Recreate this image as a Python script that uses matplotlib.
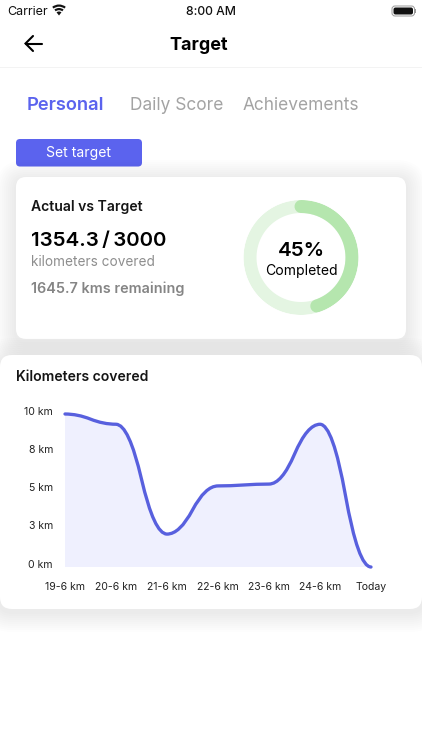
import numpy as np
import matplotlib
matplotlib.use('Agg')
import matplotlib.pyplot as plt
from matplotlib.patches import FancyBboxPatch, Rectangle, PathPatch, Wedge
from matplotlib.path import Path
from matplotlib.transforms import ScaledTranslation

W, H = 422, 750

# chart data
days = ['19-6 km', '20-6 km', '21-6 km', '22-6 km', '23-6 km', '24-6 km', 'Today']
km = [10, 9.33, 2.15, 5.3, 5.42, 9.33, 0]
y_ticks = [0, 2.5, 5, 7.5, 10]
y_labels = ['0 km', '3 km', '5 km', '8 km', '10 km']
progress = 0.45

BLUE = '#5B63EE'
LINE = '#5860DE'
FILL = '#EFF0FE'
plt.rcParams['font.family'] = ['Inter', 'DejaVu Sans']

fig = plt.figure(figsize=(W / 100, H / 100), dpi=100, facecolor='white')
ui = fig.add_axes([0, 0, 1, 1])
ui.set_xlim(0, W)
ui.set_ylim(H, 0)
ui.axis('off')


def px(size):
    return size * 0.72


def card(x0, y0, x1, y1, r):
    # soft shadow, stacked translucent boxes
    for grow in range(20, 0, -2):
        ui.add_patch(FancyBboxPatch((x0 - grow, y0 - grow + 3), x1 - x0 + 2 * grow, y1 - y0 + 2 * grow,
                                    boxstyle=f'round,pad=0,rounding_size={r + grow}',
                                    fc='black', ec='none', alpha=0.009))
    ui.add_patch(FancyBboxPatch((x0, y0), x1 - x0, y1 - y0, boxstyle=f'round,pad=0,rounding_size={r}',
                                fc='white', ec='none'))


# status bar
ui.text(7, 12, 'Carrier', fontsize=px(12.5), color='#111111', va='center', ha='left')
for r, w in [(11, 2.2), (7.5, 2.2)]:
    ui.add_patch(Wedge((59, 15.5), r, 232, 308, width=w, fc='#111111', ec='none'))
ui.add_patch(Wedge((59, 15.5), 4, 232, 308, fc='#111111', ec='none'))
ui.text(210.5, 12, '8:00 AM', fontsize=px(12.2), fontweight='medium', color='#111111', va='center', ha='center')
ui.add_patch(FancyBboxPatch((392, 6), 22.5, 10, boxstyle='round,pad=0,rounding_size=3', fc='white', ec='#999999', lw=0.7))
ui.add_patch(FancyBboxPatch((393.5, 7.5), 19.5, 7, boxstyle='round,pad=0,rounding_size=2', fc='#111111', ec='none'))
ui.add_patch(Rectangle((415, 9), 1.2, 4, fc='#999999', ec='none'))

# header
ui.plot([25.5, 41.5], [43.5, 43.5], color='black', lw=1.5, solid_capstyle='round')
ui.plot([33, 25.5, 33], [36, 43.5, 51], color='black', lw=1.5, solid_capstyle='round', solid_joinstyle='miter')
ui.text(198.5, 45, 'Target', fontsize=px(18), fontweight='bold', color='black', va='center', ha='center')
ui.add_patch(Rectangle((0, 66.5), W, 1.5, fc='#F3F3F3', ec='none'))

# tabs
ui.text(27, 105, 'Personal', fontsize=px(18.3), fontweight='semibold', color=BLUE, va='center', ha='left')
ui.text(130, 105, 'Daily Score', fontsize=px(17.3), color='#A3A3A3', va='center', ha='left')
ui.text(243, 105, 'Achievements', fontsize=px(17.3), color='#A3A3A3', va='center', ha='left')

# button
ui.add_patch(FancyBboxPatch((16, 139), 126, 27.5, boxstyle='round,pad=0,rounding_size=4', fc=BLUE, ec='none'))
ui.text(78.5, 153.5, 'Set target', fontsize=px(14), color='white', va='center', ha='center')

# actual vs target card
card(16, 177, 406, 339, 10)
ui.text(31, 207, 'Actual vs Target', fontsize=px(14), fontweight='semibold', color='#151515', va='center', ha='left')
ui.text(31, 241.5, '1354.3\u2009/\u20093000', fontsize=px(20.5), fontweight='semibold', color='black', va='center', ha='left')
ui.text(31, 262, 'kilometers covered', fontsize=px(13.6), color='#8E8E8E', va='center', ha='left')
ui.text(31, 289, '1645.7 kms remaining', fontsize=px(14.4), fontweight='semibold', color='#858585', va='center', ha='left')

# progress ring
R_OUT = 57.5
ring = fig.add_axes([(301 - R_OUT) / W, 1 - (257.5 + R_OUT) / H, 2 * R_OUT / W, 2 * R_OUT / H], projection='polar')
ring.set_theta_zero_location('N')
ring.set_theta_direction(-1)
ring.set_ylim(0, 1)
ring.axis('off')
ring.patch.set_alpha(0)
theta = np.linspace(0, 2 * np.pi, 200)
ring_r = 51 / R_OUT
ring.plot(theta, np.full_like(theta, ring_r), color='#E4F5E2', lw=px(13))
theta = np.linspace(0, 2 * np.pi * progress, 200)
ring.plot(theta, np.full_like(theta, ring_r), color='#B5E6AE', lw=px(13), solid_capstyle='round')
ui.text(301, 251.5, f'{progress:.0%}', fontsize=px(20.5), fontweight='semibold', color='black', va='center', ha='center')
ui.text(301, 271, 'Completed', fontsize=px(14), color='black', va='center', ha='center')

# kilometers card
card(0, 355, W, 609, 12)
ui.text(16, 377, 'Kilometers covered', fontsize=px(14), fontweight='semibold', color='#151515', va='center', ha='left')

# chart
x0, x1, y_top, y_bot = 65, 371, 414, 567
ax = fig.add_axes([x0 / W, 1 - y_bot / H, (x1 - x0) / W, (y_bot - y_top) / H])
ax.patch.set_alpha(0)
ax.set_xlim(0, len(km) - 1)
ax.set_ylim(0, 10)
for s in ax.spines.values():
    s.set_visible(False)

xs = np.arange(len(km))
verts = [(xs[0], km[0])]
codes = [Path.MOVETO]
for i in range(len(km) - 1):
    mx = (xs[i] + xs[i + 1]) / 2
    my = (km[i] + km[i + 1]) / 2
    verts += [((mx + xs[i]) / 2, km[i]), (mx, my), ((mx + xs[i + 1]) / 2, km[i + 1]), (xs[i + 1], km[i + 1])]
    codes += [Path.CURVE3] * 4
area = Path(verts + [(xs[-1], 0), (xs[0], 0), (xs[0], km[0])], codes + [Path.LINETO, Path.LINETO, Path.LINETO])
ax.add_patch(PathPatch(area, fc=FILL, ec='none'))
ax.add_patch(PathPatch(Path(verts, codes), fc='none', ec=LINE, lw=px(3.3), capstyle='round', clip_on=False))

ax.set_xticks(xs, days)
ax.set_yticks(y_ticks, y_labels)
ax.tick_params(length=0, labelsize=px(10.5), labelcolor='#222222')
ax.tick_params(axis='x', pad=px(15.5))
ax.tick_params(axis='y', pad=px(12))
offset = ScaledTranslation(0, 3.5 / 100, fig.dpi_scale_trans)
for lab in ax.get_yticklabels():
    lab.set_transform(lab.get_transform() + offset)

fig.savefig('out.png', dpi=100)
